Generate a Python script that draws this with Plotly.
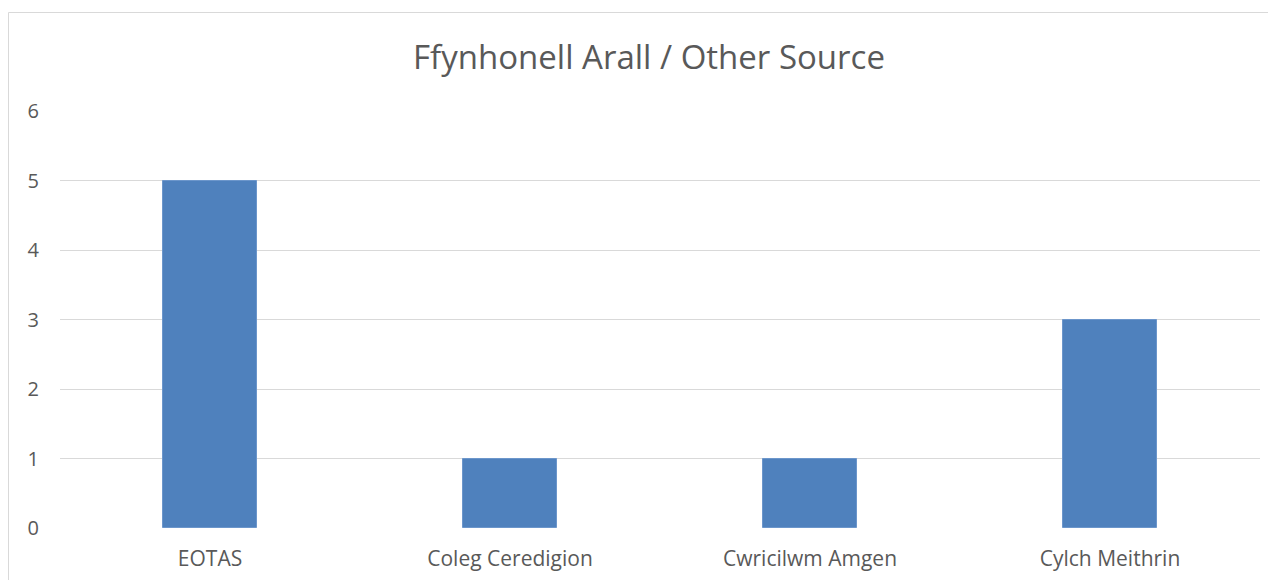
import plotly.graph_objects as go

categories = ["EOTAS", "Coleg Ceredigion", "Cwricilwm Amgen", "Cylch Meithrin"]
values = [5, 1, 1, 3]
title_text = "Ffynhonell Arall / Other Source"

# page body adds an 8px offset; compensate in figure coordinates
W, H = 1268, 572
L, R, T, B = 52, 16, 103, 52

fig = go.Figure(go.Bar(
    x=categories, y=values,
    marker=dict(color="#4F81BD", line=dict(color="#6C96CB", width=1)),
    width=0.315,
))

pw, ph = W - L - R, H - T - B
bx = -L / pw + 0.5 / pw
by = 1 + (T - 4.5) / ph
fig.update_layout(
    width=W, height=H,
    margin=dict(l=L, r=R, t=T, b=B),
    paper_bgcolor="white", plot_bgcolor="white",
    font=dict(family="Open Sans, Liberation Sans, sans-serif", color="#595959"),
    title=dict(text=title_text, x=641 / W, xanchor="center",
               y=1 - 49 / H, yanchor="middle",
               font=dict(size=33, color="#595959")),
    showlegend=False,
    bargap=0,
    shapes=[
        dict(type="line", xref="paper", yref="paper",
             x0=bx, x1=(W - L) / pw, y0=by, y1=by,
             line=dict(color="#D9D9D9", width=1), layer="below"),
        dict(type="line", xref="paper", yref="paper",
             x0=bx, x1=bx, y0=-B / ph, y1=by,
             line=dict(color="#D9D9D9", width=1), layer="below"),
    ],
)
fig.update_yaxes(range=[0, 6], dtick=1, showgrid=True, gridcolor="#D9D9D9",
                 gridwidth=1, zeroline=False, showline=False, automargin=False,
                 tickfont=dict(size=20, color="#595959"), ticklabelstandoff=20)
fig.update_xaxes(showline=False, showgrid=False, automargin=False,
                 tickfont=dict(size=21, color="#595959"), ticklabelstandoff=16)

fig.write_html("out.html")
